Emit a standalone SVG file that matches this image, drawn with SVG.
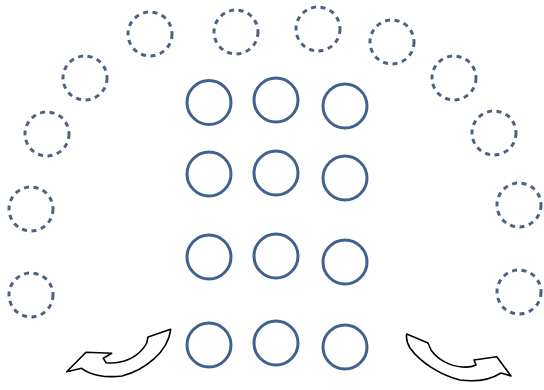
<svg xmlns="http://www.w3.org/2000/svg" width="544" height="390" viewBox="0 0 544 390">
<style>
.solid{fill:none;stroke:#41628f;stroke-width:3}
.dash{fill:none;stroke:#4d6282;stroke-width:3;stroke-dasharray:5 4.6}
.arrow{fill:#fff;stroke:#000;stroke-width:1.6;stroke-linejoin:round}
</style>
<rect width="544" height="390" fill="#fff"/>
<g id="outer">
<circle id="d1" class="dash" cx="150" cy="34" r="22"/>
<circle id="d2" class="dash" cx="236" cy="32" r="22"/>
<circle id="d3" class="dash" cx="85" cy="78" r="22"/>
<circle id="d4" class="dash" cx="47" cy="134" r="22"/>
<circle id="d5" class="dash" cx="31" cy="209" r="22"/>
<circle id="d6" class="dash" cx="31" cy="295" r="22"/>
<circle id="d7" class="dash" cx="318" cy="29" r="22"/>
<circle id="d8" class="dash" cx="392" cy="42" r="22"/>
<circle id="d9" class="dash" cx="454" cy="78" r="22"/>
<circle id="d10" class="dash" cx="494" cy="133" r="22"/>
<circle id="d11" class="dash" cx="519" cy="205" r="22"/>
<circle id="d12" class="dash" cx="519" cy="292" r="22"/>
</g>
<g id="inner">
<circle id="s11" class="solid" cx="209" cy="102.5" r="22"/>
<circle id="s12" class="solid" cx="276" cy="100" r="22"/>
<circle id="s13" class="solid" cx="345" cy="106" r="22"/>
<circle id="s21" class="solid" cx="209" cy="174" r="22"/>
<circle id="s22" class="solid" cx="276" cy="173" r="22"/>
<circle id="s23" class="solid" cx="345" cy="178" r="22"/>
<circle id="s31" class="solid" cx="209" cy="257" r="22"/>
<circle id="s32" class="solid" cx="276" cy="256" r="22"/>
<circle id="s33" class="solid" cx="345" cy="262" r="22"/>
<circle id="s41" class="solid" cx="209" cy="345" r="22"/>
<circle id="s42" class="solid" cx="276" cy="343" r="22"/>
<circle id="s43" class="solid" cx="345" cy="347" r="22"/>
</g>
<g id="connectors">
<path id="arrow-left" class="arrow" d="M170.7,329.3 L148,337 L146.7,343 C142,352 132,360 120,362 C116,363 112,363.5 106,362.7 L103.3,358.3 L111.7,353.3 L86,352.3 L66.7,371.7 L81.7,368.3 C90,375 105,378 122,376 C145,370 168,352 170.7,329.3 Z"/>
<path id="arrow-right" class="arrow" d="M406.7,334 L428,343 L431,350 C438,360 450,366 462,367 C468,367.5 472,367 476,365 L474,360 L496.7,356.7 L511,376 L501,373 C490,380 475,382 460,380 C440,375 420,362 410,348 C407,343 406,338 406.7,334 Z"/>
</g>
</svg>
